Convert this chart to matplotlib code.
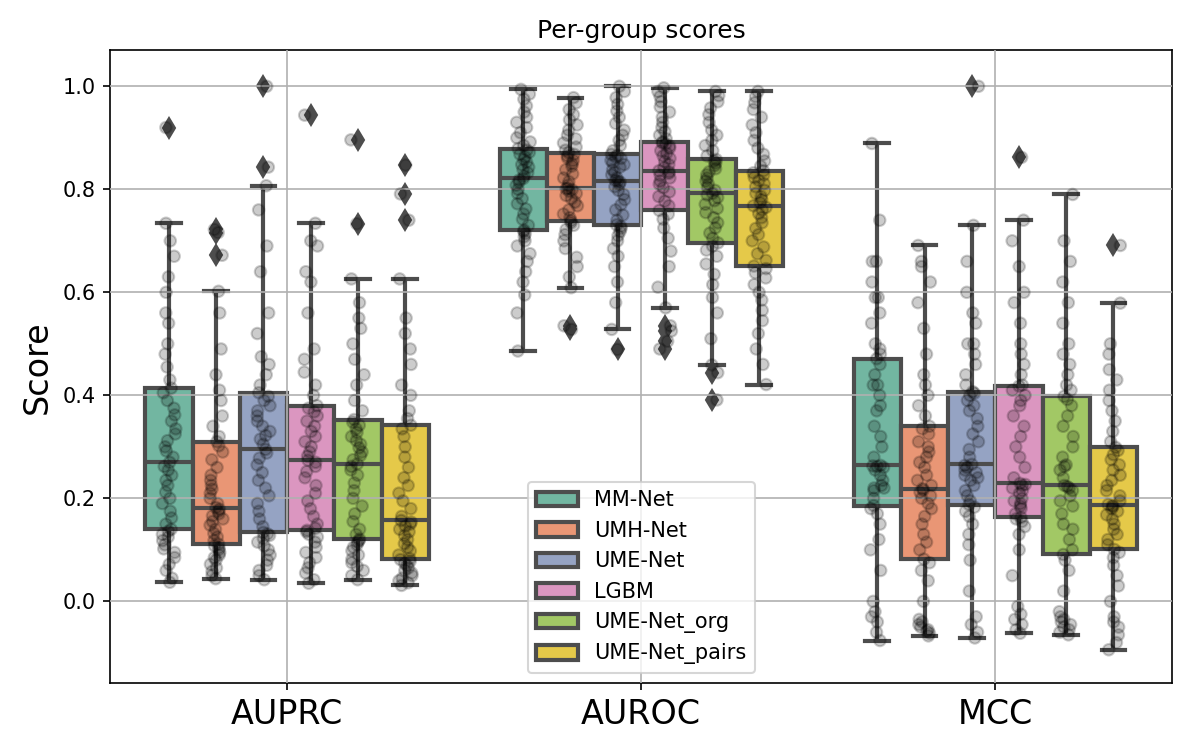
import numpy as np
import pandas as pd
import matplotlib
matplotlib.use("Agg")
import matplotlib.pyplot as plt
import seaborn as sns

metrics = ["AUPRC", "AUROC", "MCC"]
models = ["MM-Net", "UMH-Net", "UME-Net", "LGBM", "UME-Net_org", "UME-Net_pairs"]

auprc_mmnet = [0.037, 0.045, 0.060, 0.072, 0.085, 0.095, 0.102, 0.110, 0.118, 0.125, 0.130, 0.136,
               0.140, 0.150, 0.162, 0.175, 0.190, 0.200, 0.212, 0.225, 0.235, 0.245, 0.255, 0.262,
               0.270, 0.280, 0.292, 0.300, 0.312, 0.325, 0.335, 0.350, 0.362, 0.375, 0.390, 0.405,
               0.414, 0.430, 0.455, 0.480, 0.500, 0.540, 0.560, 0.600, 0.630, 0.670, 0.700, 0.734, 0.920]
auprc_umh = [0.044, 0.050, 0.058, 0.065, 0.072, 0.080, 0.085, 0.090, 0.095, 0.100, 0.104, 0.108,
             0.111, 0.118, 0.125, 0.132, 0.140, 0.148, 0.155, 0.160, 0.166, 0.170, 0.175, 0.179,
             0.182, 0.190, 0.200, 0.210, 0.218, 0.225, 0.235, 0.245, 0.260, 0.275, 0.290, 0.302,
             0.310, 0.320, 0.340, 0.360, 0.390, 0.410, 0.440, 0.490, 0.560, 0.602, 0.672, 0.716, 0.722]
auprc_ume = [0.042, 0.050, 0.060, 0.070, 0.080, 0.090, 0.100, 0.108, 0.115, 0.122, 0.128, 0.131,
             0.134, 0.145, 0.160, 0.175, 0.190, 0.205, 0.220, 0.235, 0.250, 0.265, 0.278, 0.288,
             0.295, 0.305, 0.315, 0.322, 0.330, 0.340, 0.350, 0.360, 0.370, 0.380, 0.390, 0.398,
             0.405, 0.420, 0.440, 0.460, 0.475, 0.520, 0.560, 0.640, 0.690, 0.760, 0.807, 0.843, 1.000]
auprc_lgbm = [0.035, 0.042, 0.055, 0.065, 0.075, 0.085, 0.095, 0.105, 0.115, 0.125, 0.130, 0.135,
              0.138, 0.142, 0.150, 0.165, 0.180, 0.195, 0.210, 0.225, 0.240, 0.252, 0.262, 0.270,
              0.274, 0.282, 0.290, 0.300, 0.310, 0.320, 0.330, 0.340, 0.350, 0.360, 0.368, 0.375,
              0.380, 0.400, 0.420, 0.445, 0.470, 0.490, 0.560, 0.620, 0.640, 0.690, 0.700, 0.734, 0.944]
auprc_org = [0.042, 0.050, 0.060, 0.068, 0.075, 0.082, 0.090, 0.098, 0.105, 0.110, 0.115, 0.118,
             0.121, 0.130, 0.140, 0.155, 0.170, 0.185, 0.200, 0.215, 0.230, 0.245, 0.255, 0.262,
             0.267, 0.275, 0.283, 0.290, 0.298, 0.305, 0.312, 0.320, 0.328, 0.335, 0.342, 0.348,
             0.353, 0.370, 0.390, 0.420, 0.440, 0.470, 0.500, 0.530, 0.550, 0.580, 0.626, 0.733, 0.896]
auprc_pairs = [0.031, 0.036, 0.040, 0.045, 0.050, 0.055, 0.060, 0.065, 0.070, 0.074, 0.078, 0.081,
               0.083, 0.090, 0.098, 0.105, 0.112, 0.120, 0.128, 0.135, 0.140, 0.146, 0.150, 0.154,
               0.157, 0.165, 0.180, 0.195, 0.210, 0.225, 0.240, 0.260, 0.280, 0.300, 0.320, 0.335,
               0.342, 0.355, 0.370, 0.400, 0.420, 0.460, 0.490, 0.520, 0.550, 0.626, 0.740, 0.791, 0.847]

auroc_mmnet = [0.486, 0.560, 0.595, 0.620, 0.640, 0.660, 0.675, 0.690, 0.700, 0.708, 0.714, 0.718,
               0.721, 0.730, 0.742, 0.752, 0.762, 0.772, 0.782, 0.792, 0.800, 0.808, 0.814, 0.818,
               0.821, 0.826, 0.832, 0.838, 0.843, 0.848, 0.853, 0.858, 0.863, 0.868, 0.872, 0.876,
               0.879, 0.885, 0.892, 0.900, 0.910, 0.920, 0.930, 0.940, 0.950, 0.962, 0.975, 0.985, 0.994]
auroc_umh = [0.528, 0.535, 0.609, 0.630, 0.650, 0.668, 0.685, 0.700, 0.712, 0.722, 0.730, 0.735,
             0.739, 0.745, 0.752, 0.760, 0.768, 0.775, 0.782, 0.788, 0.792, 0.796, 0.799, 0.801,
             0.802, 0.808, 0.815, 0.822, 0.830, 0.838, 0.845, 0.850, 0.856, 0.861, 0.865, 0.868,
             0.871, 0.876, 0.882, 0.890, 0.898, 0.905, 0.915, 0.925, 0.935, 0.945, 0.955, 0.968, 0.978]
auroc_ume = [0.489, 0.528, 0.580, 0.620, 0.650, 0.670, 0.685, 0.700, 0.710, 0.718, 0.724, 0.728,
             0.731, 0.740, 0.750, 0.760, 0.770, 0.780, 0.790, 0.798, 0.805, 0.810, 0.814, 0.816,
             0.817, 0.822, 0.828, 0.833, 0.838, 0.843, 0.848, 0.852, 0.856, 0.860, 0.863, 0.866,
             0.868, 0.875, 0.885, 0.895, 0.905, 0.915, 0.928, 0.940, 0.952, 0.965, 0.978, 0.990, 1.000]
auroc_lgbm = [0.490, 0.505, 0.525, 0.535, 0.570, 0.610, 0.650, 0.680, 0.705, 0.725, 0.742, 0.752,
              0.759, 0.768, 0.777, 0.786, 0.795, 0.803, 0.810, 0.816, 0.822, 0.827, 0.831, 0.834,
              0.836, 0.842, 0.848, 0.854, 0.860, 0.865, 0.870, 0.875, 0.880, 0.884, 0.888, 0.890,
              0.892, 0.898, 0.905, 0.912, 0.920, 0.930, 0.940, 0.950, 0.960, 0.970, 0.980, 0.990, 0.997]
auroc_org = [0.391, 0.444, 0.459, 0.510, 0.560, 0.590, 0.615, 0.635, 0.655, 0.670, 0.682, 0.690,
             0.696, 0.705, 0.715, 0.725, 0.735, 0.745, 0.755, 0.763, 0.771, 0.778, 0.784, 0.789,
             0.792, 0.798, 0.804, 0.810, 0.816, 0.822, 0.828, 0.834, 0.840, 0.846, 0.851, 0.855,
             0.858, 0.865, 0.875, 0.885, 0.895, 0.905, 0.915, 0.930, 0.945, 0.958, 0.970, 0.982, 0.990]
auroc_pairs = [0.421, 0.460, 0.490, 0.520, 0.545, 0.565, 0.585, 0.600, 0.615, 0.628, 0.638, 0.646,
               0.651, 0.662, 0.675, 0.688, 0.700, 0.712, 0.724, 0.735, 0.745, 0.753, 0.760, 0.765,
               0.768, 0.774, 0.780, 0.786, 0.792, 0.798, 0.805, 0.811, 0.817, 0.823, 0.828, 0.832,
               0.836, 0.845, 0.855, 0.868, 0.880, 0.895, 0.910, 0.925, 0.940, 0.955, 0.968, 0.980, 0.990]

mcc_mmnet = [-0.076, -0.060, -0.040, -0.030, -0.020, 0.000, 0.060, 0.100, 0.120, 0.150, 0.170, 0.180,
             0.186, 0.200, 0.215, 0.220, 0.220, 0.225, 0.235, 0.245, 0.255, 0.260, 0.262, 0.263,
             0.264, 0.280, 0.300, 0.320, 0.340, 0.370, 0.380, 0.400, 0.420, 0.420, 0.440, 0.460,
             0.471, 0.480, 0.490, 0.500, 0.540, 0.560, 0.590, 0.590, 0.620, 0.660, 0.660, 0.740, 0.889]
mcc_umh = [-0.067, -0.062, -0.058, -0.055, -0.050, -0.045, -0.040, -0.035, 0.000, 0.040, 0.060, 0.075,
           0.082, 0.100, 0.115, 0.130, 0.150, 0.165, 0.180, 0.190, 0.200, 0.205, 0.212, 0.216,
           0.219, 0.225, 0.235, 0.245, 0.260, 0.270, 0.280, 0.290, 0.300, 0.310, 0.325, 0.335,
           0.340, 0.360, 0.380, 0.400, 0.420, 0.440, 0.480, 0.530, 0.580, 0.620, 0.650, 0.660, 0.691]
mcc_ume = [-0.071, -0.060, -0.045, -0.030, 0.020, 0.080, 0.110, 0.130, 0.150, 0.165, 0.175, 0.183,
           0.188, 0.195, 0.205, 0.215, 0.225, 0.235, 0.240, 0.245, 0.250, 0.255, 0.260, 0.264,
           0.266, 0.280, 0.295, 0.310, 0.325, 0.340, 0.355, 0.370, 0.380, 0.390, 0.400, 0.404,
           0.407, 0.420, 0.440, 0.460, 0.480, 0.500, 0.500, 0.540, 0.560, 0.600, 0.660, 0.730, 1.000]
mcc_lgbm = [-0.062, -0.055, -0.045, -0.035, -0.025, -0.010, 0.050, 0.100, 0.130, 0.145, 0.155, 0.160,
            0.163, 0.170, 0.180, 0.185, 0.190, 0.195, 0.200, 0.210, 0.215, 0.220, 0.225, 0.227,
            0.229, 0.240, 0.260, 0.280, 0.300, 0.320, 0.340, 0.360, 0.380, 0.390, 0.400, 0.410,
            0.418, 0.420, 0.440, 0.460, 0.480, 0.500, 0.540, 0.580, 0.600, 0.650, 0.700, 0.740, 0.862]
mcc_org = [-0.065, -0.060, -0.055, -0.050, -0.045, -0.040, -0.035, -0.030, -0.020, 0.020, 0.060, 0.080,
           0.091, 0.100, 0.120, 0.140, 0.150, 0.170, 0.185, 0.195, 0.205, 0.215, 0.220, 0.223,
           0.225, 0.240, 0.255, 0.262, 0.265, 0.280, 0.300, 0.320, 0.340, 0.360, 0.380, 0.392,
           0.398, 0.410, 0.420, 0.440, 0.460, 0.480, 0.500, 0.540, 0.580, 0.620, 0.660, 0.700, 0.790]
mcc_pairs = [-0.094, -0.080, -0.065, -0.050, -0.040, -0.030, 0.000, 0.030, 0.050, 0.070, 0.085, 0.095,
             0.101, 0.110, 0.120, 0.130, 0.140, 0.150, 0.160, 0.168, 0.175, 0.180, 0.184, 0.186,
             0.188, 0.195, 0.205, 0.215, 0.225, 0.235, 0.245, 0.255, 0.265, 0.275, 0.285, 0.293,
             0.299, 0.310, 0.330, 0.350, 0.370, 0.390, 0.410, 0.430, 0.450, 0.480, 0.500, 0.579, 0.691]

scores = {
    "AUPRC": [auprc_mmnet, auprc_umh, auprc_ume, auprc_lgbm, auprc_org, auprc_pairs],
    "AUROC": [auroc_mmnet, auroc_umh, auroc_ume, auroc_lgbm, auroc_org, auroc_pairs],
    "MCC": [mcc_mmnet, mcc_umh, mcc_ume, mcc_lgbm, mcc_org, mcc_pairs],
}

rows = []
for m in metrics:
    for model, vals in zip(models, scores[m]):
        for v in vals:
            rows.append({"metric": m, "model": model, "score": v})
df = pd.DataFrame(rows)

np.random.seed(3)
fig, ax = plt.subplots(figsize=(8, 5), dpi=150)
fig.subplots_adjust(left=0.0917, right=0.977, top=0.933, bottom=0.089)

edge = "#4d4d4d"
sns.boxplot(data=df, x="metric", y="score", hue="model", order=metrics, hue_order=models,
            palette="Set2", saturation=0.75, linewidth=2, linecolor=edge, width=0.8,
            flierprops=dict(marker="d", markerfacecolor=edge, markeredgecolor=edge, markersize=7),
            ax=ax)
sns.stripplot(data=df, x="metric", y="score", hue="model", order=metrics, hue_order=models,
              palette=["black"] * 6, dodge=True, alpha=0.2, size=5.5, linewidth=1,
              edgecolor="black", jitter=0.12, legend=False, ax=ax)

ax.set_ylim(-0.159, 1.070)
ax.set_yticks([0.0, 0.2, 0.4, 0.6, 0.8, 1.0])
ax.grid(True, color="#b0b0b0", linewidth=0.8)
ax.set_axisbelow(False)
ax.set_xlabel("")
ax.set_ylabel("Score", fontsize=16)
ax.tick_params(axis="x", labelsize=16)
ax.set_title("Per-group scores", fontsize=12)

handles, labels = ax.get_legend_handles_labels()
ax.legend(handles[:6], labels[:6], loc="lower center", fontsize=10)

fig.savefig("out.png", dpi=150)
